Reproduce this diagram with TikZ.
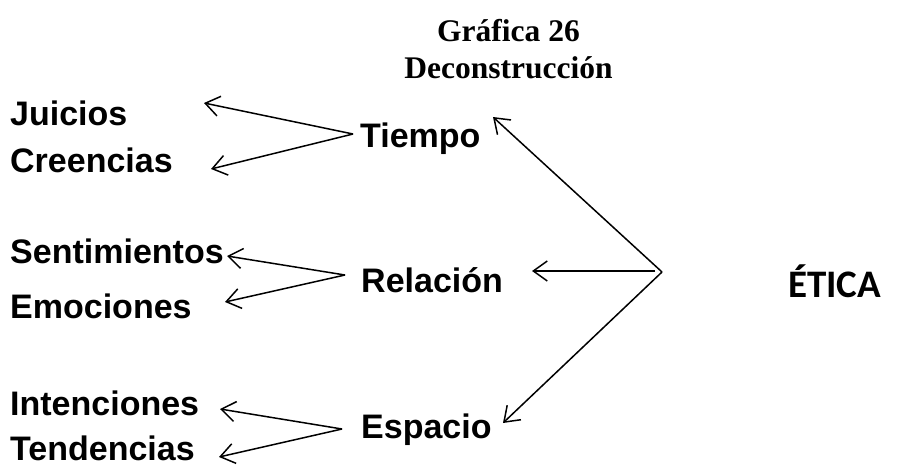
\documentclass[tikz,border=0pt]{standalone}
\usepackage{fontspec}
\setmainfont{Liberation Sans}
\newfontfamily\titlefont{Liberation Serif}
\newfontfamily\eticafont{Carlito}
\usetikzlibrary{arrows.meta}
\begin{document}
\begin{tikzpicture}[x=1pt,y=-1pt,
  lbl/.style={anchor=base west,inner sep=0pt,font=\fontsize{34}{40}\selectfont\bfseries},
  ttl/.style={anchor=base,inner sep=0pt,font=\titlefont\fontsize{31.5}{37}\selectfont\bfseries},
  conn/.style={line width=1.5pt,-{Straight Barb[length=14pt,width=20pt,line width=1.5pt]}}]
\useasboundingbox[fill=white] (0,0) rectangle (897,466);
% title
\node[ttl] (t1) at (508.5,41) {Gráfica 26};
\node[ttl] (t2) at (508.5,78) {Deconstrucción};
% labels
\node[lbl] (juicios) at (10,125) {Juicios};
\node[lbl] (creencias) at (10,172) {Creencias};
\node[lbl] (tiempo) at (360,147) {Tiempo};
\node[lbl] (sent) at (10,263) {Sentimientos};
\node[lbl] (emoc) at (10,318) {Emociones};
\node[lbl] (relacion) at (361,292) {Relación};
\node[lbl] (intenc) at (10,415) {Intenciones};
\node[lbl] (tend) at (10,460) {Tendencias};
\node[lbl] (espacio) at (361,438) {Espacio};
\node[anchor=base west,inner sep=0pt,font=\eticafont\fontsize{39}{46}\selectfont\bfseries] (etica) at (788,297) {ÉTICA};
% connector points
\coordinate (tv) at (353,134);
\coordinate (tj) at (204,103);
\coordinate (tc) at (211,169);
\coordinate (rv) at (345,275);
\coordinate (rs) at (227,256);
\coordinate (re) at (225,302);
\coordinate (ev) at (342,429);
\coordinate (ei) at (220,409);
\coordinate (et) at (219,457);
\coordinate (fv) at (662,272);
\coordinate (fr) at (655,271);
\coordinate (at) at (493,117);
\coordinate (ar) at (532,271);
\coordinate (ae) at (503,423);
% arrows
\draw[conn] (tv) -- (tj);
\draw[conn] (tv) -- (tc);
\draw[conn] (rv) -- (rs);
\draw[conn] (rv) -- (re);
\draw[conn] (ev) -- (ei);
\draw[conn] (ev) -- (et);
\draw[conn] (fv) -- (at);
\draw[conn] (fr) -- (ar);
\draw[conn] (fv) -- (ae);
\end{tikzpicture}
\end{document}
